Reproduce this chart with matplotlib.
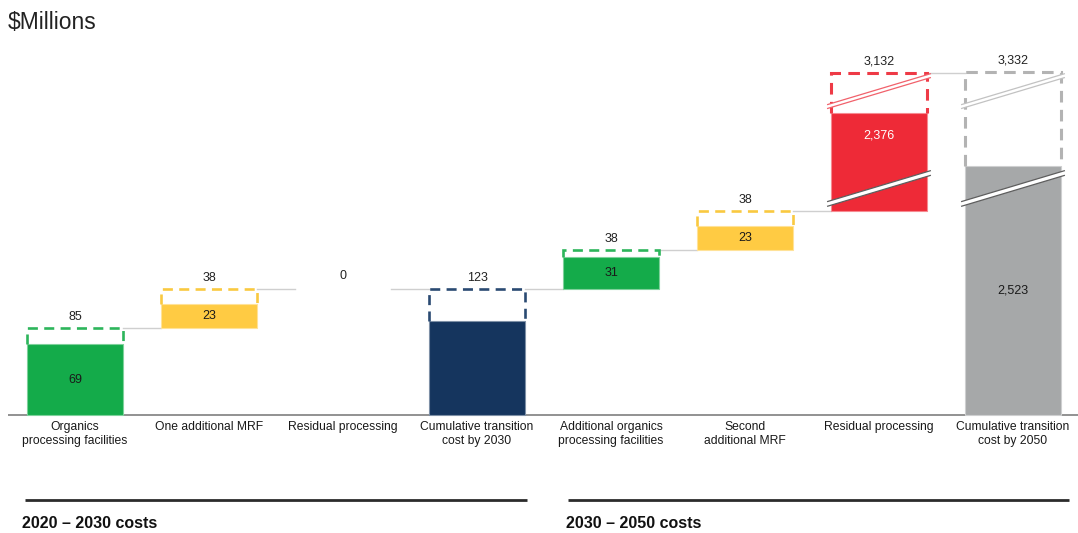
import matplotlib
matplotlib.use("Agg")
import matplotlib.pyplot as plt
from matplotlib.patches import Rectangle, Polygon
from matplotlib.colors import to_rgb

# ---- data ($ millions) ----
categories = [
    "Organics\nprocessing facilities",
    "One additional MRF",
    "Residual processing",
    "Cumulative transition\ncost by 2030",
    "Additional organics\nprocessing facilities",
    "Second\nadditional MRF",
    "Residual processing",
    "Cumulative transition\ncost by 2050",
]
gross_cost = [85, 38, 0, 123, 38, 38, 3132, 3332]      # dashed outline values
net_cost = [69, 23, 0, 92, 31, 23, 2376, 2523]          # solid bar values
is_total = [False, False, False, True, False, False, False, True]
show_net_label = [True, True, False, False, True, True, True, True]
periods = ["2020 – 2030 costs", "2030 – 2050 costs"]
period_first = [0, 4]
period_last = [3, 7]

# ---- styling ----
solid_colors = ["#14AB4A", "#FFCB43", "#FFCB43", "#15355E",
                "#14AB4A", "#FFCB43", "#EE2A37", "#A6A8A9"]
dash_colors = ["#2DB55B", "#F9C940", "#F9C940", "#2A4A72",
               "#2DB55B", "#F9C940", "#EE3A46", "#B3B3B3"]
net_text_colors = ["#1A1A1A", "#1A1A1A", "#1A1A1A", "#FFFFFF",
                   "#1A1A1A", "#1A1A1A", "#FFFFFF", "#1A1A1A"]
period_left_pad = [0.37, 0.32]
period_right_pad = [0.37, 0.42]
period_text_pad = [0.395, 0.335]

FONT = ["Liberation Sans", "DejaVu Sans"]
plt.rcParams["font.family"] = FONT

# axis break: very large bars are drawn with part of their height cut out
BREAK_THRESHOLD = 1000
SOLID_CUT = 2280
OUTLINE_CUT = 717
BAR_WIDTH = 0.716

W, H, DPI = 1078, 533, 100
fig = plt.figure(figsize=(W / DPI, H / DPI), dpi=DPI)
ax = fig.add_axes([0, 0, 1, 1])
px_per_unit = 1.025
base_px = 118          # baseline height above bottom edge, pixels
ax.set_ylim(-base_px / px_per_unit, (H - base_px) / px_per_unit)
ax.set_xlim(-75 / 134.0, (W - 75) / 134.0)
ax.axis("off")


def lighten(c, f):
    r, g, b = to_rgb(c)
    return (r + (1 - r) * f, g + (1 - g) * f, b + (1 - b) * f)


# waterfall geometry
running = 0
bases, solid_tops, dash_tops, broken = [], [], [], []
for g, n, tot in zip(gross_cost, net_cost, is_total):
    base = 0 if tot else running
    if not tot:
        running += g
    brk = g > BREAK_THRESHOLD
    s_top = base + n - (SOLID_CUT if brk else 0)
    d_top = s_top + (g - n) - (OUTLINE_CUT if brk else 0)
    bases.append(base)
    solid_tops.append(s_top)
    dash_tops.append(d_top)
    broken.append(brk)

n_bars = len(categories)
half = BAR_WIDTH / 2

# baseline
ax.plot([-0.50, n_bars], [0, 0], color="#7F7F7F", lw=1.2, zorder=1,
        solid_capstyle="butt")

# connectors
for i in range(n_bars - 1):
    ax.plot([i + half, i + 1 - half], [dash_tops[i], dash_tops[i]],
            color="#CFCFCF", lw=1.0, zorder=1)

for i in range(n_bars):
    x0, x1 = i - half, i + half
    if gross_cost[i] == 0:
        ax.text(i, dash_tops[i] + 7, "0", ha="center", va="bottom",
                fontsize=9, color="#222222")
        continue
    # solid part
    ax.add_patch(Rectangle((x0, bases[i]), BAR_WIDTH, solid_tops[i] - bases[i],
                           facecolor=solid_colors[i],
                           edgecolor=lighten(solid_colors[i], 0.45),
                           lw=0.8, zorder=2))
    # dashed outline of the gross amount
    lw = 2.2 if broken[i] else 1.9
    ax.plot([x0, x0, x1, x1],
            [solid_tops[i], dash_tops[i], dash_tops[i], solid_tops[i]],
            color=dash_colors[i], lw=lw, ls=(0, (3.8, 2.4)), zorder=2,
            solid_joinstyle="miter", dash_joinstyle="miter")
    ax.text(i, dash_tops[i] + 5, f"{gross_cost[i]:,}", ha="center",
            va="bottom", fontsize=9, color="#222222")

    if broken[i]:
        ov = 0.025
        xl, xr = x0 - ov, x1 + ov
        # lower break across the solid bar
        yl, yr, t = 206, 236, 2.3
        ax.add_patch(Polygon([[xl, yl - t], [xr, yr - t], [xr, yr + t], [xl, yl + t]],
                             closed=True, facecolor="white", edgecolor="none", zorder=3))
        for s in (-t, t):
            ax.plot([xl, xr], [yl + s, yr + s], color="#5E5E5E", lw=0.9, zorder=4)
        # upper break across the dashed outline
        yl2, yr2, t2 = 301, 331, 1.9
        ax.add_patch(Polygon([[xl, yl2 - t2], [xr, yr2 - t2], [xr, yr2 + t2], [xl, yl2 + t2]],
                             closed=True, facecolor="white", edgecolor="none", zorder=3))
        for s in (-t2, t2):
            ax.plot([xl, xr], [yl2 + s, yr2 + s], color=lighten(dash_colors[i], 0.2),
                    lw=0.9, zorder=4)
        if bases[i] > 0:
            # place the value in the part above the break
            label_y = solid_tops[i] - 0.4 * (solid_tops[i] - (yr + t))
        else:
            label_y = (solid_tops[i] + bases[i]) / 2
    else:
        label_y = (solid_tops[i] + bases[i]) / 2

    if show_net_label[i]:
        ax.text(i, label_y, f"{net_cost[i]:,}", ha="center", va="center",
                fontsize=9, color=net_text_colors[i], zorder=5)

# category labels
for i, c in enumerate(categories):
    ax.text(i, -5.5, c, ha="center", va="top", fontsize=8.7, color="#1A1A1A",
            linespacing=1.3)

# period rules and labels
for k, (name, a, b) in enumerate(zip(periods, period_first, period_last)):
    ax.plot([a - period_left_pad[k], b + period_right_pad[k]], [-83, -83],
            color="#2B2B2B", lw=2.0, solid_capstyle="butt")
    ax.text(a - period_text_pad[k], -106, name, ha="left", va="center",
            fontsize=11.5, fontweight="bold", color="#111111")

fig.text(8 / W, 1 - 22 / H, "$Millions", ha="left", va="center",
         fontsize=16.5, color="#222222")

fig.savefig("out.png", dpi=DPI, facecolor="white")
